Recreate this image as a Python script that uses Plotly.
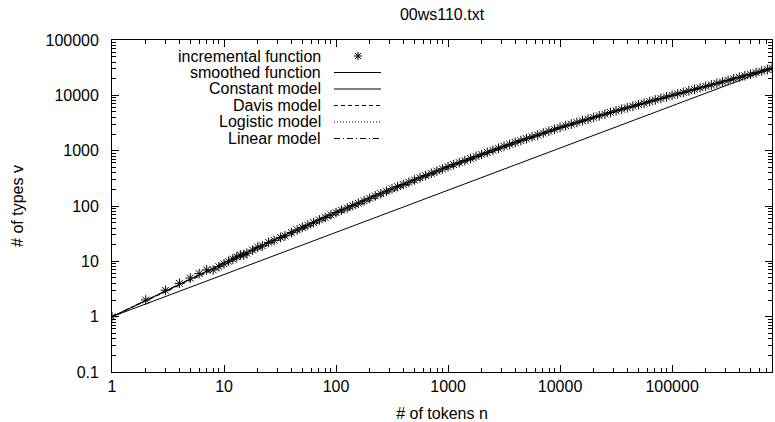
import plotly.graph_objects as go

# ---------------- data ----------------
title_text = "00ws110.txt"
x_title = "# of tokens n"
y_title = "# of types v"

incr_n = [1, 2, 3, 4, 5, 6, 7, 8, 9, 10, 11, 12, 13, 14, 15, 16, 18, 20, 22, 25, 28, 32, 35, 40, 45,
          50, 56, 63, 71, 80, 90, 100, 112, 126, 141, 158, 178, 200, 224, 251, 282, 316, 355, 398,
          447, 501, 562, 631, 708, 794, 891, 1000, 1122, 1259, 1413, 1585, 1778, 1995, 2239, 2512,
          2818, 3162, 3548, 3981, 4467, 5012, 5623, 6310, 7079, 7943, 8913, 10000, 11220, 12589,
          14125, 15849, 17783, 19953, 22387, 25119, 28184, 31623, 35481, 39811, 44668, 50119,
          56234, 63096, 70795, 79433, 89125, 100000, 112202, 125893, 141254, 158489, 177828,
          199526, 223872, 251189, 281838, 316228, 354813, 398107, 446684, 501187, 562341,
          630957, 707946, 780000]
incr_v = [1, 2, 3, 4, 5, 6, 7, 7, 8, 9, 10, 11, 12, 13, 13, 14, 16, 18, 19, 22, 24, 27, 29, 33, 37,
          41, 45, 50, 56, 62, 69, 76, 84, 92, 102, 112, 124, 138, 152, 167, 185, 204, 224, 245,
          269, 295, 324, 355, 389, 427, 468, 513, 558, 608, 662, 721, 785, 855, 931, 1014,
          1104, 1202, 1300, 1406, 1521, 1644, 1778, 1923, 2080, 2249, 2432, 2630, 2818, 3020,
          3236, 3467, 3715, 3981, 4266, 4571, 4898, 5248, 5598, 5970, 6368, 6792,
          7244, 7727, 8241, 8790, 9376, 10000, 10641, 11324, 12050, 12823, 13646,
          14521, 15453, 16444, 17500, 18621, 19861, 21184, 22594, 24099, 25704,
          27416, 29242, 30870]

model_n = [1, 3.16, 10, 31.6, 100, 316, 1000, 3162, 10000, 31623, 100000, 316228, 780000]
smoothed_v = [1, 3.05, 9.3, 27, 76, 204, 513, 1202, 2630, 5248, 10000, 18621, 30870]
constant_v = [1, 2.40, 5.78, 13.9, 33.4, 80.4, 193, 464, 1117, 2685, 6457, 15524, 30870]
davis_v = [1, 2.95, 8.7, 24.5, 68, 182, 470, 1120, 2520, 5150, 9950, 18700, 30870]
logistic_v = [1, 3.1, 9.3, 27, 77, 205, 520, 1215, 2650, 5300, 10100, 18500, 30500]
linear_v = [1, 3.1, 9.5, 28, 79, 209, 518, 1205, 2620, 5280, 10050, 18650, 30870]

legend_labels = ["incremental function", "smoothed function", "Constant model",
                 "Davis model", "Logistic model", "Linear model"]

x_tick_vals = [1, 10, 100, 1000, 10000, 100000]
x_tick_text = ["1", "10", "100", "1000", "10000", "100000"]
y_tick_vals = [0.1, 1, 10, 100, 1000, 10000, 100000]
y_tick_text = ["0.1", "1", "10", "100", "1000", "10000", "100000"]

# ---------------- figure ----------------
FONT = "Liberation Sans, Arial, Helvetica, sans-serif"
TF = dict(family=FONT, size=16, color="black")
W, H = 775, 422
ML, MR, MT, MB = 112, 3, 40, 50
PW, PH = W - ML - MR, H - MT - MB
XR = [0, 5.892]
YR = [-1, 5]
PAD = "\u00a0\u00a0"

def px(x):
    return (x - ML) / PW

def py(y):
    return (H - MB - y) / PH

minor_vals = [m * 10 ** e for e in range(-1, 6) for m in range(2, 10)]

fig = go.Figure()

# Constant model drawn on the identically ranged minor-tick axes so those axes render
fig.add_trace(go.Scatter(
    x=model_n, y=constant_v, mode="lines", name="Constant model",
    xaxis="x3", yaxis="y3", line=dict(color="black", width=1), showlegend=False))

line_styles = [
    ("smoothed function", smoothed_v, "solid"),
    ("Davis model", davis_v, "4px,3px"),
    ("Logistic model", logistic_v, "1px,2px"),
    ("Linear model", linear_v, "6px,3px,1px,3px"),
]
for name, vals, dash in line_styles:
    fig.add_trace(go.Scatter(
        x=model_n, y=vals, mode="lines", name=name,
        line=dict(color="black", width=1, dash=dash), showlegend=False))

fig.add_trace(go.Scatter(
    x=incr_n, y=incr_v, mode="markers", name="incremental function",
    marker=dict(symbol="asterisk-open", size=8, color="black",
                line=dict(color="black", width=1)),
    showlegend=False))

# custom gnuplot-style key (text right, sample left)
row_y = [56, 72.5, 89, 105.5, 122, 138.5]
dashes = ["solid", "solid", "4px,3px", "1px,2px", "6px,3px,1px,3px"]
for i, label in enumerate(legend_labels):
    fig.add_annotation(x=px(323), y=py(row_y[i]), xref="paper", yref="paper",
                       text=label, showarrow=False, xanchor="right", yanchor="middle",
                       font=TF)
    if i > 0:
        fig.add_shape(type="line", xref="paper", yref="paper",
                      x0=px(334), x1=px(381), y0=py(row_y[i]), y1=py(row_y[i]),
                      line=dict(color="black", width=1, dash=dashes[i - 1]))
# key sample for the star marker, placed in axis units at the key row
key_x = 10 ** (XR[0] + px(358) * (XR[1] - XR[0]))
key_y = 10 ** (YR[0] + py(row_y[0]) * (YR[1] - YR[0]))
fig.add_trace(go.Scatter(
    x=[key_x], y=[key_y], mode="markers",
    marker=dict(symbol="asterisk-open", size=7, color="black",
                line=dict(color="black", width=1)),
    showlegend=False, hoverinfo="skip"))

fig.update_layout(
    width=W, height=H,
    margin=dict(l=ML, r=MR, t=MT, b=MB),
    paper_bgcolor="white", plot_bgcolor="white",
    showlegend=False,
    font=TF,
    title=dict(text=title_text, x=0.5, xref="paper", xanchor="center",
               y=1 - 14 / H, yref="container", yanchor="middle", font=TF),
    xaxis=dict(type="log", range=XR, showline=True, linecolor="black", mirror="allticks",
               ticks="inside", ticklen=7, tickcolor="black", tickwidth=1,
               tickvals=x_tick_vals, ticktext=x_tick_text, tickfont=TF, showgrid=False,
               zeroline=False,
               title=dict(text=x_title, standoff=14, font=TF)),
    yaxis=dict(type="log", range=YR, showline=True, linecolor="black", mirror="allticks",
               ticks="inside", ticklen=7, tickcolor="black", tickwidth=1,
               tickvals=y_tick_vals, ticktext=[t + PAD for t in y_tick_text],
               tickfont=TF, showgrid=False, zeroline=False,
               title=dict(text=y_title, standoff=17, font=TF)),
    xaxis3=dict(overlaying="x", type="log", range=XR, anchor="y3", ticks="inside", ticklen=4,
                tickcolor="black", tickwidth=1, tickvals=minor_vals, showticklabels=False,
                mirror="allticks", showgrid=False, showline=False, zeroline=False),
    yaxis3=dict(overlaying="y", type="log", range=YR, anchor="x3", ticks="inside", ticklen=4,
                tickcolor="black", tickwidth=1, tickvals=minor_vals, showticklabels=False,
                mirror="allticks", showgrid=False, showline=False, zeroline=False),
)

fig.write_html("out.html", config={"displayModeBar": False},
               post_script="document.body.style.margin='0';")
